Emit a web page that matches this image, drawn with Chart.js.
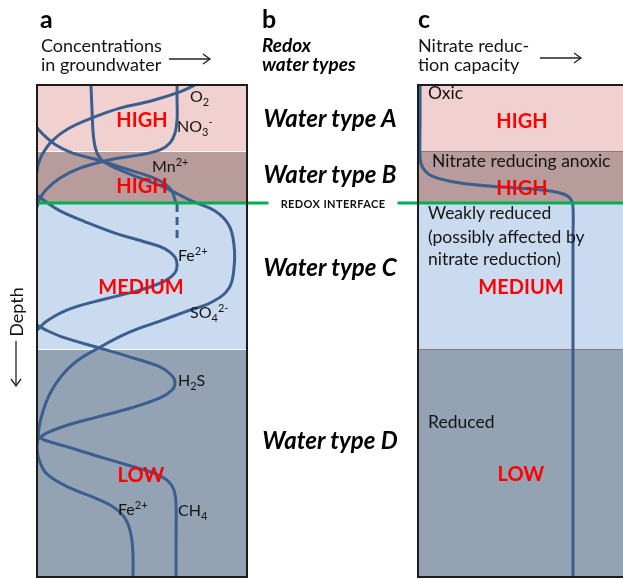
<!DOCTYPE html>
<html>
<head>
<meta charset="utf-8">
<script src="https://cdn.jsdelivr.net/npm/chart.js@4.4.0/dist/chart.umd.min.js"></script>
<style>
    html, body { margin: 0; padding: 0; background: #fff; }
    #wrap { position: relative; width: 623px; height: 579px; overflow: hidden; font-family: Lato, "Open Sans", sans-serif; color: #141414; }
    #wrap canvas { position: absolute; left: 0; top: 0; }
    .t { position: absolute; white-space: nowrap; line-height: 1; }
    .c { transform: translate(-50%, -50%); }
    .l { transform: translateY(-50%); }
    .big { font-weight: bold; font-size: 25px; color: #000; }
    .hd { font-size: 18px; }
    .hdb { font-size: 19px; font-weight: bold; font-style: italic; color: #000; }
    .red { color: #ff0000; font-weight: bold; font-size: 20px; }
    .wt { font-weight: bold; font-style: italic; font-size: 24px; color: #000; }
    .lab { font-size: 16px; }
    .lab sub, .lab sup { font-size: 11px; line-height: 0; }
    .zone { font-size: 17.5px; }
    #redox { font-size: 11px; font-weight: bold; letter-spacing: 0.4px; color: #111; }
</style>
</head>
<body>
<div id="wrap">
    <canvas id="chart" width="623" height="579"></canvas>

    <!-- headers -->
    <div class="t big" style="left:40px;top:6px">a</div>
    <div class="t hd" style="left:41px;top:36px">Concentrations</div>
    <div class="t hd" style="left:41px;top:55px">in groundwater</div>
    <svg style="position:absolute;left:168px;top:52px" width="44" height="14"><line x1="1" y1="7" x2="42" y2="7" stroke="#222" stroke-width="1.3"/><polyline points="35,2 42,7 35,12" fill="none" stroke="#222" stroke-width="1.3"/></svg>

    <div class="t big" style="left:262px;top:6px">b</div>
    <div class="t hdb" style="left:262px;top:35px">Redox</div>
    <div class="t hdb" style="left:262px;top:54px">water types</div>

    <div class="t big" style="left:418px;top:6px">c</div>
    <div class="t hd" style="left:418px;top:36px">Nitrate reduc-</div>
    <div class="t hd" style="left:418px;top:55px">tion capacity</div>
    <svg style="position:absolute;left:539px;top:51px" width="44" height="14"><line x1="1" y1="7" x2="42" y2="7" stroke="#222" stroke-width="1.3"/><polyline points="35,2 42,7 35,12" fill="none" stroke="#222" stroke-width="1.3"/></svg>

    <!-- depth axis -->
    <div class="t hd" style="left:16px;top:312px;transform:translate(-50%,-50%) rotate(-90deg);font-size:18px">Depth</div>
    <svg style="position:absolute;left:9px;top:340px" width="14" height="48"><line x1="7" y1="1" x2="7" y2="46" stroke="#222" stroke-width="1.3"/><polyline points="2,39 7,46 12,39" fill="none" stroke="#222" stroke-width="1.3"/></svg>

    <!-- water types -->
    <div class="t wt c" style="left:330px;top:118px">Water type A</div>
    <div class="t wt c" style="left:330px;top:174px">Water type B</div>
    <div class="t wt c" style="left:330px;top:267px">Water type C</div>
    <div class="t wt c" style="left:330px;top:440px">Water type D</div>
    <div class="t c" id="redox" style="left:333px;top:203px">REDOX INTERFACE</div>

    <!-- panel a labels -->
    <div class="t red c" style="left:142px;top:119px">HIGH</div>
    <div class="t red c" style="left:142px;top:185px">HIGH</div>
    <div class="t red c" style="left:141px;top:286px">MEDIUM</div>
    <div class="t red c" style="left:141px;top:474px">LOW</div>
    <div class="t lab l" style="left:190px;top:96px">O<sub>2</sub></div>
    <div class="t lab l" style="left:177px;top:126px">NO<sub>3</sub><sup>-</sup></div>
    <div class="t lab l" style="left:152px;top:166px">Mn<sup>2+</sup></div>
    <div class="t lab l" style="left:178px;top:255px">Fe<sup>2+</sup></div>
    <div class="t lab l" style="left:190px;top:312px">SO<sub>4</sub><sup>2-</sup></div>
    <div class="t lab l" style="left:178px;top:380px">H<sub>2</sub>S</div>
    <div class="t lab l" style="left:118px;top:509px">Fe<sup>2+</sup></div>
    <div class="t lab l" style="left:178px;top:510px">CH<sub>4</sub></div>

    <!-- panel c labels -->
    <div class="t red c" style="left:522px;top:120px">HIGH</div>
    <div class="t red c" style="left:522px;top:187px">HIGH</div>
    <div class="t red c" style="left:521px;top:286px">MEDIUM</div>
    <div class="t red c" style="left:521px;top:473px">LOW</div>
    <div class="t zone l" style="left:428px;top:93px">Oxic</div>
    <div class="t zone l" style="left:432px;top:161px">Nitrate reducing anoxic</div>
    <div class="t zone l" style="left:428px;top:213px">Weakly reduced</div>
    <div class="t zone l" style="left:428px;top:237px">(possibly affected by</div>
    <div class="t zone l" style="left:428px;top:259px">nitrate reduction)</div>
    <div class="t zone l" style="left:428px;top:422px">Reduced</div>
</div>

<script>
// depth is 0 (top) .. 100 (bottom), concentration / capacity 0 .. 100 (relative)
const bandDepths = [0, 13.4, 24, 53.7, 100]; // oxic, nitrate reducing, weakly reduced, reduced
const redoxInterfaceDepth = 24;

const o2Conc  = [75.2, 68.1, 53.8, 39.5, 26.2, 14.8, 7.1, 2.4, 0.5, 0];
const o2Depth = [0, 1.4, 3.3, 4.7, 6.7, 8.9, 11.4, 14.2, 16.3, 17.7];

const no3Conc  = [66.7, 66.7, 66.7, 65.7, 63.3, 58.6, 49, 34.8, 20.5, 11, 4.3, 1, 0];
const no3Depth = [0, 3, 7.1, 9.8, 11.8, 13.2, 14.2, 15.2, 16.9, 18.9, 21.3, 23.4, 24.8];

const so4Conc  = [25.7, 26.2, 27.1, 29, 32.9, 44.3, 60, 73.8, 84.8, 91.4, 93.8, 93.8, 91.4, 83.3, 70.5, 58.6, 44.3, 30, 16.7, 7.1, 1.9, 0];
const so4Depth = [0, 5.1, 11.2, 14.2, 15.9, 18.1, 20.7, 23.6, 25.6, 28.5, 32.5, 37.2, 41.3, 44.1, 46.1, 48, 50.2, 53.3, 56.9, 62, 67.7, 73.2];

const mnConc  = [0, 3.8, 9, 16.7, 28.6, 44.3, 57.6, 63.8, 66.2];
const mnDepth = [8.7, 10.4, 12.2, 13.8, 15.2, 17.3, 19.3, 21.3, 24];
const mnDashConc  = [66.7, 66.7];
const mnDashDepth = [24.2, 31.9];

const fe1Conc  = [0, 3.8, 11, 22.9, 37.1, 51.4, 61, 65.7, 66.7, 65.7, 61, 49, 32.4, 15.7, 5.2, 0];
const fe1Depth = [22.4, 23.6, 25.6, 27.8, 30.1, 31.9, 33.3, 35, 36.6, 38.2, 39.8, 41.7, 43.5, 45.5, 47.8, 49.8];

const h2sConc  = [0, 5.2, 13.3, 28.6, 44.3, 58.6, 64.3, 65.7, 64.3, 58.6, 44.3, 28.6, 13.3, 3.8, 0];
const h2sDepth = [48.8, 50, 51.4, 53.3, 55.3, 57.3, 59.1, 60.6, 62, 63.6, 65.7, 67.5, 69.3, 70.9, 72.2];

const ch4Conc  = [0, 3.8, 13.3, 28.6, 44.3, 56.2, 62.4, 65.2, 66.2, 66.2, 66.2];
const ch4Depth = [71.3, 72.2, 73.4, 75.4, 77.4, 79, 80.5, 82.3, 85.4, 92.5, 100];

const fe2Conc  = [0, 0, 1, 4.8, 15.7, 28.6, 37.1, 42.4, 44.8, 45.7, 45.7];
const fe2Depth = [71.3, 73.8, 76.2, 79.1, 81.9, 84.1, 86, 88.4, 91.5, 95.5, 100];

const capConc  = [1, 1, 1, 2.4, 6.7, 20, 39, 58.1, 68.1, 72.4, 73.8, 73.8, 73.8];
const capDepth = [0, 7.1, 14.8, 16.9, 18.5, 19.9, 20.7, 21.3, 22, 23, 24.8, 31.5, 100];

// layout (pixels)
const plotLeft = 37, plotTop = 85, plotBottom = 577, canvasW = 623;
const panelAWidth = 210, panelCLeft = 418;
const pxPerUnit = panelAWidth / 100;
const bandColors = ['#f0d1d0', '#b89b9b', '#cadbf0', '#94a3b4'];
const curveColor = '#3a5f8e';

const pts = (conc, depth) => conc.map((c, i) => ({ x: c, y: depth[i] }));

function curve(conc, depth, axis, extra) {
    return Object.assign({
        data: pts(conc, depth),
        xAxisID: axis,
        yAxisID: 'y',
        showLine: true,
        borderColor: curveColor,
        borderWidth: 3,
        pointRadius: 0,
        tension: 0.4,
        fill: false
    }, extra || {});
}

const xaMax = (canvasW - plotLeft) / pxPerUnit;
const xcMin = -(panelCLeft - plotLeft) / pxPerUnit;

const panelsPlugin = {
    id: 'panels',
    beforeDatasetsDraw(chart) {
        const ctx = chart.ctx, y = chart.scales.y, area = chart.chartArea;
        const panels = [chart.scales.xa, chart.scales.xc];
        ctx.save();
        panels.forEach((sx, p) => {
            const x0 = sx.getPixelForValue(0);
            const x1 = Math.min(sx.getPixelForValue(100), area.right);
            for (let i = 0; i < bandColors.length; i++) {
                const y0 = y.getPixelForValue(bandDepths[i]);
                const y1 = y.getPixelForValue(bandDepths[i + 1]);
                ctx.fillStyle = bandColors[i];
                ctx.fillRect(x0, y0, x1 - x0, y1 - y0);
            }
            ctx.strokeStyle = p === 0 ? '#ffffff' : '#8a7a80';
            ctx.lineWidth = 1;
            [bandDepths[1], bandDepths[3]].forEach(d => {
                const yy = Math.round(y.getPixelForValue(d)) + 0.5;
                ctx.beginPath();
                ctx.moveTo(x0, yy);
                ctx.lineTo(x1, yy);
                ctx.stroke();
            });
        });
        ctx.restore();
    },
    afterDatasetsDraw(chart) {
        const ctx = chart.ctx, y = chart.scales.y, area = chart.chartArea;
        const xa = chart.scales.xa, xc = chart.scales.xc;
        ctx.save();
        // redox interface, broken around its label
        const lab = document.getElementById('redox');
        const gapL = lab.offsetLeft - lab.offsetWidth / 2 - 12;
        const gapR = lab.offsetLeft + lab.offsetWidth / 2 + 12;
        const yi = y.getPixelForValue(redoxInterfaceDepth);
        ctx.strokeStyle = '#00b050';
        ctx.lineWidth = 3;
        ctx.beginPath();
        ctx.moveTo(xa.getPixelForValue(0), yi);
        ctx.lineTo(gapL, yi);
        ctx.moveTo(gapR, yi);
        ctx.lineTo(area.right, yi);
        ctx.stroke();
        // frames
        ctx.strokeStyle = '#1c1c1c';
        ctx.lineWidth = 2;
        const top = y.getPixelForValue(0), bot = y.getPixelForValue(100);
        const ax0 = xa.getPixelForValue(0), ax1 = xa.getPixelForValue(100);
        ctx.strokeRect(ax0, top, ax1 - ax0, bot - top);
        const cx0 = xc.getPixelForValue(0);
        ctx.beginPath();
        ctx.moveTo(area.right + 2, top);
        ctx.lineTo(cx0, top);
        ctx.lineTo(cx0, bot);
        ctx.lineTo(area.right + 2, bot);
        ctx.stroke();
        ctx.restore();
    }
};

const chart = new Chart(document.getElementById('chart'), {
    type: 'scatter',
    data: {
        datasets: [
            curve(o2Conc, o2Depth, 'xa'),
            curve(no3Conc, no3Depth, 'xa'),
            curve(so4Conc, so4Depth, 'xa'),
            curve(mnConc, mnDepth, 'xa'),
            curve(mnDashConc, mnDashDepth, 'xa', { borderDash: [8, 5], tension: 0 }),
            curve(fe1Conc, fe1Depth, 'xa'),
            curve(h2sConc, h2sDepth, 'xa'),
            curve(ch4Conc, ch4Depth, 'xa'),
            curve(fe2Conc, fe2Depth, 'xa'),
            curve(capConc, capDepth, 'xc', { tension: 0.3 })
        ]
    },
    options: {
        responsive: false,
        animation: false,
        layout: { padding: { left: plotLeft, top: plotTop, right: 0, bottom: 579 - plotBottom } },
        scales: {
            x: { display: false },
            xa: { type: 'linear', axis: 'x', display: false, min: 0, max: xaMax },
            xc: { type: 'linear', axis: 'x', display: false, min: xcMin, max: xcMin + xaMax },
            y: { type: 'linear', display: false, min: 0, max: 100, reverse: true }
        },
        plugins: {
            legend: { display: false },
            tooltip: { enabled: false }
        }
    },
    plugins: [panelsPlugin]
});
</script>
</body>
</html>
